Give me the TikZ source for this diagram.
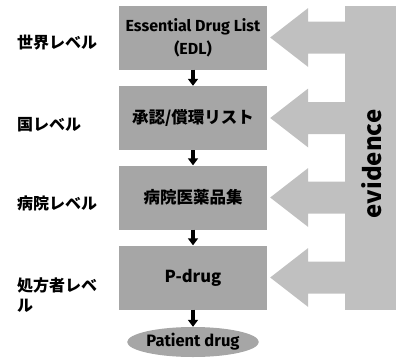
\documentclass[tikz,border=0pt]{standalone}
\usepackage{fontspec}
\usetikzlibrary{arrows.meta, shapes.geometric, calc}
\newfontfamily\jpfont{Noto Sans CJK JP Black}
\newfontfamily\latfont{Fira Sans}
\definecolor{boxgray}{RGB}{166,166,166}
\definecolor{evgray}{RGB}{192,192,192}

\begin{document}
\begin{tikzpicture}[
  x=1pt, y=-1pt,
  level/.style={anchor=west, inner sep=0pt, align=left,
    font=\jpfont\fontsize{16}{20}\selectfont},
  lbox/.style={rectangle, fill=boxgray, minimum width=148pt,
    minimum height=64pt, inner sep=0pt, align=center,
    font=\jpfont\fontsize{16.5}{23}\selectfont},
  pdrug/.style={ellipse, fill=boxgray, minimum width=124pt,
    minimum height=30pt, inner sep=0pt,
    font=\latfont\bfseries\fontsize{16.5}{18}\selectfont},
  dnarr/.style={line width=3.5pt, -{Triangle[width=10pt,length=7pt]}},
  evfill/.style={fill=evgray}
]
  \useasboundingbox (0,0) rectangle (396,359);
  % levels
  \node[level] (l1) at (17,43)  {世界レベル};
  \node[level] (l2) at (17,125) {国レベル};
  \node[level] (l3) at (17,203) {病院レベル};
  \node[level] (l4) at (17,295) {処方者レベ\\ル};
  % lists
  \node[lbox, font=\latfont\bfseries\fontsize{16}{23}\selectfont]
       (b1) at (193,37.5)  {Essential Drug List\\(EDL)};
  \node[lbox] (b2) at (193,118)   {承認/償環リスト};
  \node[lbox] (b3) at (193,197.5) {病院医薬品集};
  \node[lbox] (b4) at (193,277.5) {P-drug};
  \node[pdrug] (pd) at (193,342) {Patient drug};
  \draw[dnarr] (b1) -- (b2);
  \draw[dnarr] (b2) -- (b3);
  \draw[dnarr] (b3) -- (b4);
  \draw[dnarr] (b4) -- (pd);
  % evidence
  \node[evfill, rectangle, minimum width=51pt, minimum height=304pt,
        inner sep=0pt] (ev) at (370.5,158) {};
  \foreach \b in {b1,b2,b3,b4}
    \fill[evfill] ([xshift=3pt]\b.east) -- ++(38,-29.5) -- ++(0,13.5)
      -- ++(38,0) -- ++(0,32) -- ++(-38,0) -- ++(0,13.5) -- cycle;
  \node[rotate=90, inner sep=0pt, font=\jpfont\fontsize{24}{24}\selectfont]
       (evtxt) at (372,164) {evidence};
\end{tikzpicture}
\end{document}
